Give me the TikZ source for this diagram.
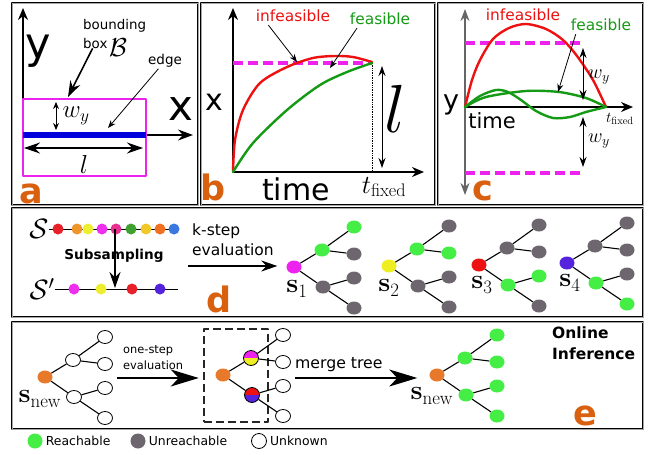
\documentclass[tikz,border=0pt]{standalone}
\usepackage{fix-cm}
\usepackage[no-math]{fontspec}
\setmainfont{DejaVu Sans}
\usetikzlibrary{arrows.meta,positioning,calc,shapes.geometric}
\definecolor{letcol}{HTML}{D9600F}
\definecolor{magN}{HTML}{EE22EE}
\definecolor{blueN}{HTML}{0000DD}
\definecolor{redN}{HTML}{EE1111}
\definecolor{grnN}{HTML}{159A15}
\definecolor{reach}{HTML}{44EE44}
\definecolor{unreach}{HTML}{6E666E}
\definecolor{rootcol}{HTML}{E8782A}
\definecolor{yelN}{HTML}{EEEE22}
\definecolor{purN}{HTML}{5522DD}
\definecolor{chA}{HTML}{E8202A}
\definecolor{chB}{HTML}{F0952A}
\definecolor{chC}{HTML}{EEEE30}
\definecolor{chD}{HTML}{EE30EE}
\definecolor{chE}{HTML}{E83090}
\definecolor{chF}{HTML}{40A030}
\definecolor{chG}{HTML}{F0C828}
\definecolor{chH}{HTML}{F07020}
\definecolor{chI}{HTML}{3A78E0}
\newcommand{\fsz}[1]{\fontsize{#1}{#1}\selectfont}
% one evaluated tree: prefix, then styles of root, children, grandchildren
\newcommand{\evaltree}[8]{%
  \node[tnode, #2] (#1r) at (0,0) {};
  \node[tnode, #3] (#1a) at (28,-17) {};
  \node[tnode, #4] (#1b) at (29,20) {};
  \node[tnode, #5] (#1aa) at (60,-40) {};
  \node[tnode, #6] (#1ab) at (60,-13) {};
  \node[tnode, #7] (#1ba) at (60,11) {};
  \node[tnode, #8] (#1bb) at (60,41) {};
  \draw[tedge] (#1r) -- (#1a) (#1r) -- (#1b)
    (#1a) -- (#1aa) (#1a) -- (#1ab) (#1b) -- (#1ba) (#1b) -- (#1bb);
}
\begin{document}
\begin{tikzpicture}[
  x=1pt, y=-1pt, line join=round, >=Stealth,
  panel/.style={draw=black, line width=0.9pt, double=black!35, double distance=0.8pt},
  ax/.style={-{Stealth[length=12pt,width=10pt]}, line width=1.2pt},
  dax/.style={{Stealth[length=12pt,width=9pt]}-{Stealth[length=12pt,width=9pt]}, line width=1.2pt},
  dsml/.style={{Stealth[length=7pt,width=6pt]}-{Stealth[length=7pt,width=6pt]}, line width=1pt},
  dmid/.style={{Stealth[length=10pt,width=7pt]}-{Stealth[length=10pt,width=7pt]}, line width=1pt},
  dbig/.style={{Stealth[length=16pt,width=11pt]}-{Stealth[length=16pt,width=11pt]}, line width=1.2pt},
  thinarr/.style={-{Stealth[length=8pt,width=6pt]}, line width=0.8pt},
  bigarr/.style={-{Stealth[length=16pt,width=11pt]}, line width=1.6pt},
  hugearr/.style={-{Stealth[length=28pt,width=17pt,inset=8pt]}, line width=1.5pt},
  limit/.style={magN, line width=3.2pt, dash pattern=on 10pt off 5pt},
  curve/.style={line width=2.4pt, line cap=round},
  tnode/.style={ellipse, minimum width=15pt, minimum height=13pt, inner sep=0pt},
  unk/.style={draw=black, line width=0.8pt, fill=white},
  splitnode/.style 2 args={circle, draw=black, line width=0.8pt, minimum size=15pt,
    path picture={
      \fill[#1] (path picture bounding box.north west) rectangle (path picture bounding box.east);
      \fill[#2] (path picture bounding box.south west) rectangle (path picture bounding box.east);}},
  tedge/.style={line width=1.1pt},
  dot/.style={circle, minimum size=11pt, inner sep=0pt},
  legdot/.style={circle, minimum size=15pt, inner sep=0pt},
  panlet/.style={text=letcol, font=\fsz{35}\bfseries, anchor=base},
  slbl/.style={font=\fsz{27}, inner sep=0pt},
  txt/.style={inner sep=0pt}]

\useasboundingbox (0,0) rectangle (656,455);
\fill[white] (0,0) rectangle (656,455);

% ---------------------------------------------------------------- frames
\draw[panel] (12,3) rectangle (198,205);
\draw[panel] (201,3) rectangle (435,205);
\draw[panel] (438,3) rectangle (643,205);
\draw[panel] (12,208) rectangle (643,317);
\draw[panel] (12,322) rectangle (643,429);

% ---------------------------------------------------------------- a
\draw[ax] (23,135) -- (23,8);
\draw[ax, -{Stealth[length=15pt,width=11pt]}] (23,135) -- (193,135);
\draw[magN, line width=2pt] (23,99) rectangle (146,176);
\draw[blueN, line width=5.5pt] (23,135) -- (146,135);
\draw[dsml] (56,102) -- (56,130);
\draw[dbig] (24,148) -- (143,148);
\node[anchor=base, font=\fsz{43}, txt] (ya) at (38.5,58) {y};
\node[anchor=base, font=\fsz{42}, txt] (xa) at (181,120) {x};
\node[font=\fsz{25}, txt] (wya) at (76,116) {$w_y$};
\node[anchor=base, font=\fsz{26}, txt] (la) at (84,173) {$l$};
\node[anchor=base west, font=\fsz{13.4}, txt] (bbtop) at (83,29) {bounding};
\node[anchor=base west, font=\fsz{13.4}, txt] (bbbot) at (83,48) {box};
\node[anchor=base west, font=\fsz{26}, txt] (bbcal) at (109,56) {$\mathcal{B}$};
\coordinate (bbtip) at (68,97);
\draw[bigarr] (bbbot) -- (bbtip);
\node[font=\fsz{13.5}, inner sep=1pt] (edgelbl) at (165,61) {edge};
\coordinate (edgetip) at (108,128);
\draw[thinarr] (edgelbl) -- (edgetip);
\node[panlet] (leta) at (31,203) {a};

% ---------------------------------------------------------------- b
\draw[ax] (233,172) -- (233,8);
\draw[ax] (233,172) -- (424,172);
\draw[densely dotted, line width=0.7pt] (372,63) -- (372,172);
\draw[limit] (233,63) -- (372,63);
\draw[redN, curve] plot[smooth] coordinates
  {(233,172) (235,140) (243,110) (260,83) (287,67) (313,58) (335,56) (353,57) (372,62)};
\draw[grnN, curve] plot[smooth] coordinates
  {(233,172) (253,143) (287,110) (320,85) (347,72) (372,63)};
\draw[dmid] (382,66) -- (382,168);
\node[anchor=base, font=\fsz{68}, txt] (lb) at (395,132) {$l$};
\node[anchor=base, font=\fsz{30}, txt] (xb) at (214,110) {x};
\node[anchor=base, font=\fsz{30}, txt] (timeb) at (296,200) {time};
\node[anchor=base, font=\fsz{26}, txt] (tfb) at (384,193) {$t_{\mathrm{fixed}}$};
\node[redN, font=\fsz{15.4}, txt] (infb) at (293,16) {infeasible};
\node[grnN, font=\fsz{15.4}, txt] (feasb) at (380,19) {feasible};
\coordinate (infbtip) at (297,62);
\coordinate (feasbtip) at (330,68);
\draw[thinarr] ($(infb.south west)!0.17!(infb.south east)+(0,3)$) -- (infbtip);
\draw[thinarr] ($(feasb.south west)!0.12!(feasb.south east)+(0,3)$) -- (feasbtip);
\node[panlet] (letb) at (213,200) {b};

% ---------------------------------------------------------------- c
\draw[dax, black!60] (465,195) -- (465,9);
\draw[ax] (465,107) -- (633,107);
\draw[limit] (465,43) -- (584,43);
\draw[limit] (465,173) -- (584,173);
\draw[redN, curve] plot[smooth] coordinates
  {(465,107) (472,80) (480,60) (493,39) (509,28) (526,24) (546,29) (563,40) (577,56) (593,80) (606,107)};
\draw[grnN, curve] plot[smooth] coordinates
  {(465,107) (480,96) (496,90) (508,92) (521,100) (536,111) (553,118) (570,117) (586,112) (606,107)};
\draw[grnN, curve] plot[smooth] coordinates
  {(465,107) (486,97) (526,91) (559,92) (586,98) (606,107)};
\draw[dmid] (583,48) -- (583,100);
\draw[dmid] (583,117) -- (583,167);
\node[font=\fsz{20}, txt] (wyc1) at (599,77) {$w_y$};
\node[font=\fsz{20}, txt] (wyc2) at (599,141) {$w_y$};
\node[redN, font=\fsz{15.4}, txt] (infc) at (523,15) {infeasible};
\node[grnN, font=\fsz{15.4}, txt] (feasc) at (601,25) {feasible};
\coordinate (feasctip) at (558,92);
\draw[thinarr] ($(feasc.south west)+(5,3)$) -- (feasctip);
\node[anchor=base, font=\fsz{21}, txt] (timec) at (492,128) {time};
\node[anchor=base, font=\fsz{15}, txt] (tfc) at (620,122) {$t_{\mathrm{fixed}}$};
\node[anchor=base, font=\fsz{27}, txt] (yc) at (451,109) {y};
\node[panlet] (letc) at (483,200) {c};

% ---------------------------------------------------------------- d
\node[font=\fsz{28}, txt] (S) at (39,229) {$\mathcal{S}$};
\node[font=\fsz{28}, txt] (Sp) at (42,289) {$\mathcal{S}'$};
\coordinate (topend) at (175,229);
\coordinate (botend) at (178,289);
\draw[line width=0.9pt] (S) -- (topend);
\draw[line width=0.9pt] (Sp) -- (botend);
\foreach \x/\c [count=\i] in {58/chA, 77/chB, 88/chC, 102/chD, 116/chE, 131/chF, 146/chG, 160/chH, 174/chI}
  \node[dot, fill=\c] (top\i) at (\x,229) {};
\foreach \x/\c [count=\i] in {74/chD, 101/chC, 132/chA, 160/purN}
  \node[dot, fill=\c] (bot\i) at (\x,289) {};
\coordinate (subtip) at (115,288);
\draw[bigarr, line width=1.3pt] (115,229) -- (subtip);
\node[font=\fsz{13.6}\bfseries, txt] (subs) at (114,256) {Subsampling};
\node[anchor=west, font=\fsz{15.5}, txt] (kstep) at (192,231) {k-step};
\node[anchor=west, font=\fsz{15.5}, txt] (keval) at (192,250) {evaluation};
\node[panlet] (letd) at (219,312) {d};

\begin{scope}[shift={(294,267)}]
  \evaltree{sA}{fill=magN}{fill=reach}{fill=unreach}{fill=reach}{fill=unreach}{fill=unreach}{fill=unreach}
  \node[slbl] (sAlbl) at (3,22) {$\mathbf{s}_1$};
\end{scope}
\begin{scope}[shift={(389,266)}]
  \evaltree{sB}{fill=yelN}{fill=reach}{fill=unreach}{fill=unreach}{fill=reach}{fill=unreach}{fill=unreach}
  \node[slbl] (sBlbl) at (0,22) {$\mathbf{s}_2$};
\end{scope}
\begin{scope}[shift={(479,265)}]
  \evaltree{sC}{fill=redN}{fill=unreach}{fill=reach}{fill=unreach}{fill=unreach}{fill=reach}{fill=unreach}
  \node[slbl] (sClbl) at (3,20) {$\mathbf{s}_3$};
\end{scope}
\begin{scope}[shift={(567,263)}]
  \evaltree{sD}{fill=purN}{fill=unreach}{fill=reach}{fill=unreach}{fill=unreach}{fill=unreach}{fill=reach}
  \node[slbl] (sDlbl) at (3,20) {$\mathbf{s}_4$};
\end{scope}
\coordinate (kfrom) at (188,266);
\draw[-{Stealth[length=16pt,width=11pt]}, line width=1.3pt, shorten >=9pt] (kfrom) -- (kfrom -| sAr.west);

% ---------------------------------------------------------------- e
\begin{scope}[shift={(45,377)}]
  \evaltree{eA}{fill=rootcol}{unk}{unk}{unk}{unk}{unk}{unk}
  \node[slbl] (eAlbl) at (-5,22) {$\mathbf{s}_{\mathrm{new}}$};
\end{scope}
\node[draw=black!85, line width=2.5pt, dash pattern=on 8pt off 4pt,
      minimum width=64pt, minimum height=93pt] (mbox) at (236,375.5) {};
\begin{scope}[shift={(223,375)}]
  \evaltree{eB}{fill=rootcol}{splitnode={magN}{yelN}}{splitnode={redN}{purN}}{unk}{unk}{unk}{unk}
\end{scope}
\begin{scope}[shift={(437,375)}]
  \evaltree{eC}{fill=rootcol}{fill=reach}{fill=reach}{fill=reach}{fill=reach}{fill=reach}{fill=reach}
  \node[slbl] (eClbl) at (-5,21) {$\mathbf{s}_{\mathrm{new}}$};
\end{scope}
\coordinate (ofrom) at (117,378);
\draw[hugearr, shorten >=4pt] (ofrom) -- (ofrom -| mbox.west);
\node[anchor=west, font=\fsz{11.4}, txt] (onestep) at (123,351) {one-step};
\node[anchor=west, font=\fsz{11.4}, txt] (oeval) at (123,365) {evaluation};
\coordinate (mfrom) at (295,378);
\draw[hugearr, shorten >=12pt] (mfrom) -- (mfrom -| eCr.west);
\node[anchor=west, font=\fsz{15.7}, txt] (merge) at (295,365) {merge tree};
\node[anchor=west, font=\fsz{15.5}\bfseries, txt] (online) at (552,333) {Online};
\node[anchor=west, font=\fsz{15.5}\bfseries, txt] (infer) at (552,354) {Inference};
\node[panlet] (lete) at (585,425) {e};

% ---------------------------------------------------------------- legend
\node[legdot, fill=reach] (lgR) at (35,441) {};
\node[right=3pt of lgR, font=\fsz{12.4}, txt] (lgRt) {Reachable};
\node[legdot, fill=unreach] (lgU) at (138,441) {};
\node[right=3pt of lgU, font=\fsz{12.4}, txt] (lgUt) {Unreachable};
\node[legdot, unk] (lgK) at (259,441) {};
\node[right=3pt of lgK, font=\fsz{12.4}, txt] (lgKt) {Unknown};

\end{tikzpicture}
\end{document}
